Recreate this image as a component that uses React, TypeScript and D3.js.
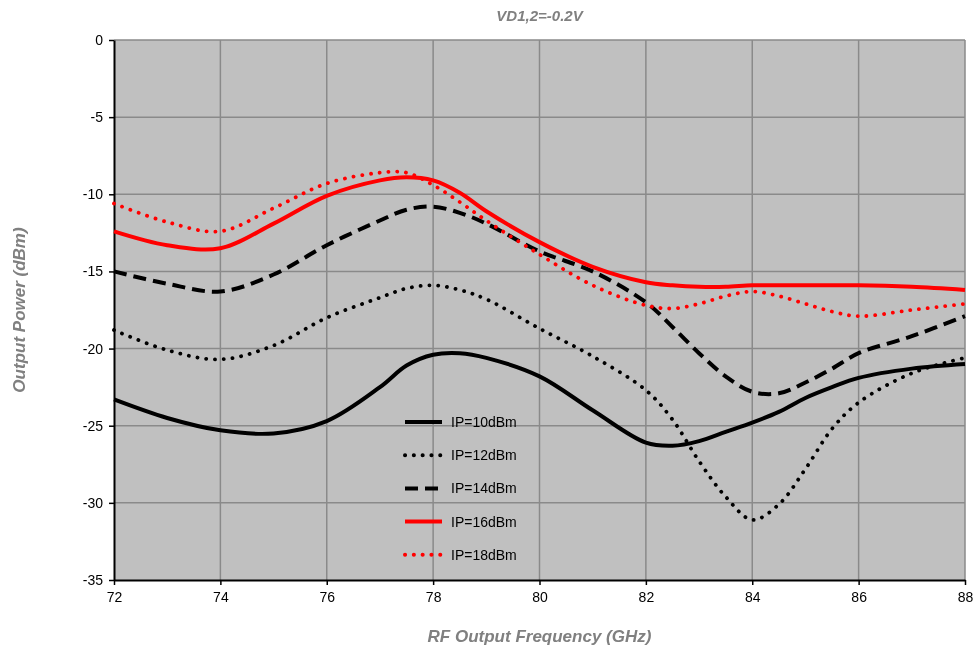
import React, { useRef, useEffect } from "react";
import * as d3 from "d3";

// frequency points (GHz)
const freqs = [72, 73, 74, 75, 76, 77, 77.5, 78, 78.5, 79, 80, 81, 82, 82.5, 83, 83.5, 84, 84.5, 85, 85.5, 86, 87, 88];

const ip10 = [-23.3, -24.5, -25.3, -25.5, -24.7, -22.5, -21.1, -20.4, -20.3, -20.6, -21.8, -24.0, -26.1, -26.3, -26.0, -25.4, -24.8, -24.1, -23.2, -22.5, -21.9, -21.3, -21.0];
const ip12 = [-18.8, -20.1, -20.7, -19.8, -18.0, -16.7, -16.1, -15.9, -16.2, -16.8, -18.7, -20.5, -22.7, -24.6, -27.3, -29.6, -31.1, -30.1, -27.8, -25.2, -23.5, -21.6, -20.6];
const ip14 = [-15.0, -15.8, -16.3, -15.2, -13.3, -11.7, -11.0, -10.8, -11.2, -11.9, -13.7, -15.0, -17.0, -18.6, -20.3, -21.8, -22.8, -22.9, -22.2, -21.3, -20.3, -19.2, -17.9];
const ip16 = [-12.4, -13.3, -13.5, -11.9, -10.1, -9.1, -8.9, -9.1, -9.9, -11.1, -13.1, -14.7, -15.7, -15.9, -16.0, -16.0, -15.9, -15.9, -15.9, -15.9, -15.9, -16.0, -16.2];
const ip18 = [-10.6, -11.8, -12.4, -10.9, -9.3, -8.6, -8.6, -9.4, -10.5, -11.7, -13.9, -15.9, -17.2, -17.4, -17.1, -16.6, -16.3, -16.6, -17.1, -17.6, -17.9, -17.5, -17.1];

const seriesNames = ["IP=10dBm", "IP=12dBm", "IP=14dBm", "IP=16dBm", "IP=18dBm"];
const seriesValues = [ip10, ip12, ip14, ip16, ip18];
const seriesColors = ["#000000", "#000000", "#000000", "#ff0000", "#ff0000"];
const seriesDashes = [null, "0.1 8.7", "13 7", null, "0.1 8.7"];

const xTicks = [72, 74, 76, 78, 80, 82, 84, 86, 88];
const yTicks = [0, -5, -10, -15, -20, -25, -30, -35];

const title = "VD1,2=-0.2V";
const xTitle = "RF Output Frequency (GHz)";
const yTitle = "Output Power (dBm)";

function Chart() {
  const ref = useRef<SVGSVGElement>(null);

  useEffect(() => {
    const svg = d3.select(ref.current);
    svg.selectAll("*").remove();

    const left = 114, right = 965, top = 40, bottom = 580;
    const x = d3.scaleLinear().domain([72, 88]).range([left, right]);
    const y = d3.scaleLinear().domain([-35, 0]).range([bottom, top]);

    svg.append("rect")
      .attr("x", left).attr("y", top)
      .attr("width", right - left).attr("height", bottom - top)
      .attr("fill", "#c0c0c0");

    // grid
    const grid = svg.append("g").attr("stroke", "#8a8a8a").attr("stroke-width", 1.5);
    xTicks.slice(1).forEach((t) => {
      grid.append("line").attr("x1", x(t)).attr("x2", x(t)).attr("y1", top).attr("y2", bottom);
    });
    yTicks.slice(0, -1).forEach((t) => {
      grid.append("line").attr("x1", left).attr("x2", right).attr("y1", y(t)).attr("y2", y(t));
    });

    // axes (plain hyphen minus like the original)
    const fmt = (d: any) => String(d);
    const xAxis = svg.append("g")
      .attr("transform", `translate(0,${bottom})`)
      .call(d3.axisBottom(x).tickValues(xTicks).tickFormat(fmt).tickSize(5).tickPadding(7).tickSizeOuter(0));
    const yAxis = svg.append("g")
      .attr("transform", `translate(${left},0)`)
      .call(d3.axisLeft(y).tickValues(yTicks).tickFormat(fmt).tickSize(5).tickPadding(6).tickSizeOuter(0));
    [xAxis, yAxis].forEach((a) => {
      a.select(".domain").attr("stroke", "#000").attr("stroke-width", 2);
      a.selectAll(".tick line").attr("stroke", "#000").attr("stroke-width", 1.5);
      a.selectAll(".tick text")
        .attr("fill", "#000")
        .style("font-family", "Liberation Sans, Arial, sans-serif")
        .style("font-size", "14px");
    });

    // series
    const line = d3.line<number>()
      .x((_, i) => x(freqs[i]))
      .y((d) => y(d))
      .curve(d3.curveCatmullRom.alpha(0.5));

    seriesValues.forEach((vals, i) => {
      const p = svg.append("path")
        .datum(vals)
        .attr("d", line)
        .attr("fill", "none")
        .attr("stroke", seriesColors[i])
        .attr("stroke-width", i === 1 || i === 4 ? 3.8 : 4)
        .attr("stroke-linecap", seriesDashes[i] === "0.1 8.7" ? "round" : "butt");
      if (seriesDashes[i]) p.attr("stroke-dasharray", seriesDashes[i]);
    });

    // legend
    const legend = svg.append("g");
    seriesNames.forEach((name, i) => {
      const ly = 422 + i * 33.2;
      const l = legend.append("line")
        .attr("x1", 405).attr("x2", 442).attr("y1", ly).attr("y2", ly)
        .attr("stroke", seriesColors[i])
        .attr("stroke-width", 4)
        .attr("stroke-linecap", seriesDashes[i] === "0.1 8.7" ? "round" : "butt");
      if (seriesDashes[i]) l.attr("stroke-dasharray", seriesDashes[i]);
      legend.append("text")
        .attr("x", 451).attr("y", ly)
        .attr("dy", "0.35em")
        .style("font-family", "Liberation Sans, Arial, sans-serif")
        .style("font-size", "14px")
        .attr("fill", "#000")
        .text(name);
    });

    // titles
    const tStyle = (s: any, size: number) =>
      s.style("font-family", "Liberation Sans, Arial, sans-serif")
        .style("font-size", `${size}px`)
        .style("font-weight", "bold")
        .style("font-style", "italic")
        .attr("fill", "#808080")
        .attr("text-anchor", "middle");

    tStyle(svg.append("text").attr("x", (left + right) / 2).attr("y", 21).text(title), 15);
    tStyle(svg.append("text").attr("x", (left + right) / 2).attr("y", 642).text(xTitle), 17);
    tStyle(
      svg.append("text")
        .attr("transform", `translate(25,${(top + bottom) / 2}) rotate(-90)`)
        .text(yTitle),
      17
    );
  }, []);

  return <svg ref={ref} width={976} height={653} style={{ display: "block" }}></svg>;
}

export default function App() {
  return (
    <div style={{ position: "fixed", left: 0, top: 0, width: 976, height: 653, overflow: "hidden" }}>
      <Chart />
    </div>
  );
}
